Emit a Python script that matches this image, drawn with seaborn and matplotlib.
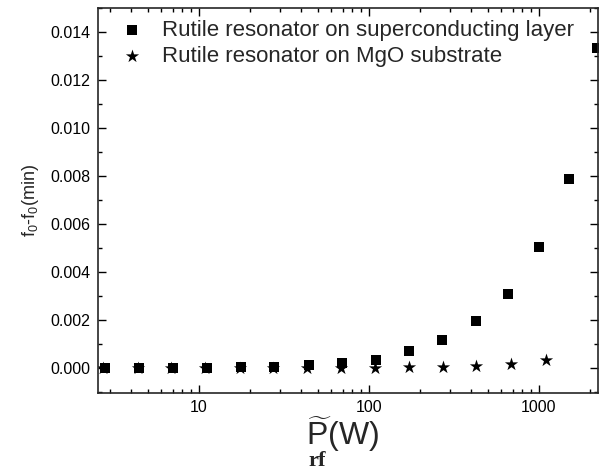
import matplotlib
matplotlib.use('Agg')
import matplotlib.pyplot as plt
from matplotlib.ticker import MultipleLocator, LogLocator, NullFormatter, FixedLocator, FormatStrFormatter
import numpy as np
import pandas as pd
import seaborn as sns

# rf power (W) and frequency shift for the two resonators
p_sc = [2.80, 4.44, 7.03, 11.2, 17.6, 27.7, 44.5, 69.4, 110, 173, 270, 424, 654, 1000, 1496, 2188]
df_sc = [0.0, 0.0, 0.00001, 0.00002, 0.00003, 0.00005, 0.000125, 0.00022, 0.00036,
         0.00072, 0.00117, 0.00197, 0.00307, 0.00503, 0.00788, 0.01335]
p_mgo = [2.72, 4.36, 6.82, 10.9, 17.4, 27.1, 43.5, 68.5, 109, 173, 273, 428, 690, 1094]
df_mgo = [0.0, 0.0, 0.0, 0.0, 0.0, 0.0, 0.00001, 0.00001, 0.00002, 0.00004, 0.00007,
          0.00009, 0.00017, 0.00033]
labels = ['Rutile resonator on superconducting layer', 'Rutile resonator on MgO substrate']

sns.set_style('ticks')
plt.rcParams['font.family'] = ['Liberation Sans', 'DejaVu Sans']
plt.rcParams['mathtext.fontset'] = 'custom'
plt.rcParams['mathtext.rm'] = 'Liberation Sans'
plt.rcParams['mathtext.it'] = 'Liberation Sans'
plt.rcParams['mathtext.bf'] = 'Liberation Serif:bold'

fig = plt.figure(figsize=(5.99, 4.72), dpi=100)
ax = fig.add_axes([0.163, 0.167, 0.836, 0.816])

sc = pd.DataFrame({'P': p_sc, 'df': df_sc})
mg = pd.DataFrame({'P': p_mgo, 'df': df_mgo})
sns.scatterplot(data=sc, x='P', y='df', marker='s', s=55, color='black', linewidth=0,
                label=labels[0], ax=ax)
sns.scatterplot(data=mg, x='P', y='df', marker='*', s=100, color='black', linewidth=0,
                label=labels[1], ax=ax)

ax.set_xscale('log')
ax.set_xlim(2.535, 2240)
ax.set_ylim(-0.00104, 0.0150)

ax.yaxis.set_major_locator(MultipleLocator(0.002))
ax.yaxis.set_minor_locator(MultipleLocator(0.001))
ax.yaxis.set_major_formatter(FormatStrFormatter('%.3f'))
ax.xaxis.set_major_locator(FixedLocator([10, 100, 1000]))
ax.xaxis.set_major_formatter(FormatStrFormatter('%d'))
ax.xaxis.set_minor_locator(LogLocator(base=10, subs=np.arange(2, 10)))
ax.xaxis.set_minor_formatter(NullFormatter())

ax.tick_params(which='both', direction='in', top=True, right=True, width=1.0, colors='black')
ax.tick_params(which='major', length=6, labelsize=11.5, pad=5)
ax.tick_params(which='minor', length=3)
for s in ax.spines.values():
    s.set_linewidth(1.2)

# x label: P with tilde, bold serif "rf" set underneath the P
ax.set_xlabel(r'$\underset{\mathbf{rf}}{\widetilde{\mathrm{P}}}$(W)', fontsize=23)
ax.xaxis.set_label_coords(0.489, -0.056)
ax.set_ylabel(r'f$_0$-f$_0$(min)', fontsize=13, labelpad=7)

ax.legend(loc='upper left', frameon=False, fontsize=16, handletextpad=0.35,
          borderaxespad=0.15, labelspacing=0.2, markerscale=1.0,
          bbox_to_anchor=(0.0, 1.0))

fig.savefig('out.png', dpi=100)
